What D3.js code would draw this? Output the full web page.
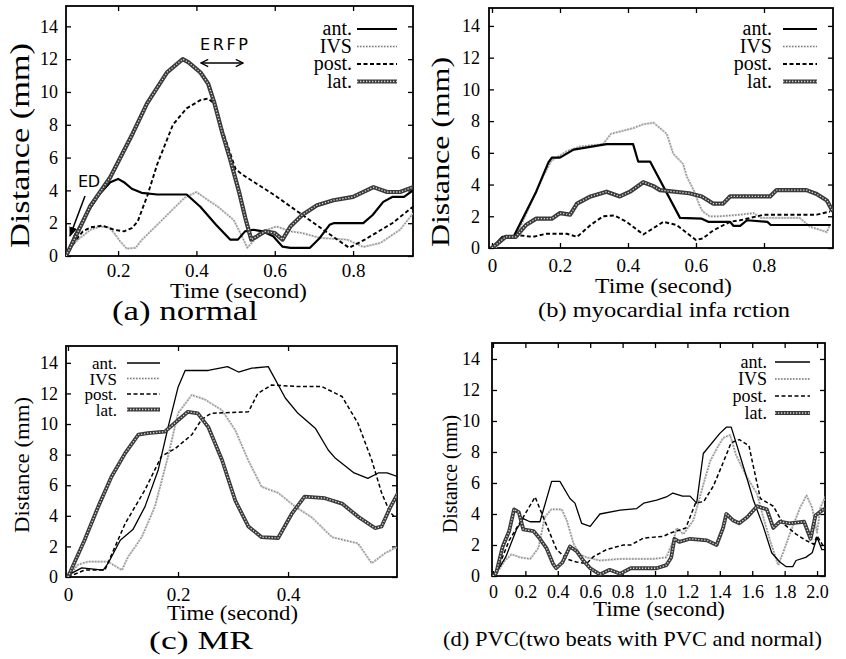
<!DOCTYPE html>
<html><head><meta charset="utf-8">
<script src="https://cdn.jsdelivr.net/npm/d3@7"></script>
<style>body{margin:0;background:#fff}svg{display:block}</style>
</head><body>
<svg id="c" width="846" height="659"></svg>
<script>
// ---------- DATA ----------
const seriesNames = ["ant.", "IVS", "post.", "lat."];
const yTickValues = [0, 2, 4, 6, 8, 10, 12, 14];
const xTicksNormal = [0.2, 0.4, 0.6, 0.8];
const xTicksMI = [0, 0.2, 0.4, 0.6, 0.8];
const xTicksMR = [0, 0.2, 0.4];
const xTicksPVC = [0, 0.2, 0.4, 0.6, 0.8, 1.0, 1.2, 1.4, 1.6, 1.8, 2.0];

// (a) normal  [time (s), distance (mm)]
const normalAnt = [[0.067,0],[0.09,1.3],[0.12,2.6],[0.15,3.7],[0.18,4.5],[0.2,4.7],[0.215,4.5],[0.235,4.1],[0.26,3.85],[0.3,3.75],[0.375,3.75],[0.41,3.0],[0.45,1.9],[0.486,1.0],[0.506,1.0],[0.524,1.5],[0.545,1.6],[0.57,1.5],[0.596,1.2],[0.62,0.57],[0.64,0.5],[0.69,0.5],[0.715,1.1],[0.74,1.9],[0.75,2.0],[0.826,2.0],[0.85,2.5],[0.877,3.3],[0.9,3.6],[0.93,3.6],[0.953,4.0]];
const normalIVS = [[0.067,0],[0.08,0.6],[0.103,1.1],[0.13,1.6],[0.155,1.8],[0.175,1.75],[0.19,1.4],[0.205,0.9],[0.222,0.45],[0.245,0.5],[0.26,0.97],[0.3,1.9],[0.34,2.85],[0.37,3.55],[0.4,3.9],[0.43,3.4],[0.455,3.0],[0.475,2.6],[0.495,2.2],[0.51,1.5],[0.53,0.5],[0.545,0.9],[0.56,1.4],[0.58,1.6],[0.605,1.8],[0.64,1.5],[0.67,1.4],[0.716,1.1],[0.785,1.0],[0.826,0.55],[0.87,0.8],[0.92,1.6],[0.953,2.6]];
const normalPost = [[0.067,0],[0.09,0.9],[0.11,1.5],[0.13,1.75],[0.16,1.85],[0.19,1.6],[0.215,1.5],[0.235,1.7],[0.25,2.1],[0.275,3.7],[0.3,5.6],[0.34,8.0],[0.375,9.0],[0.41,9.5],[0.43,9.6],[0.445,9.3],[0.47,7.4],[0.5,5.3],[0.515,5.0],[0.6,3.7],[0.665,2.6],[0.73,1.5],[0.79,0.5],[0.83,1.0],[0.9,2.0],[0.953,3.0]];
const normalLat = [[0.067,0],[0.1,1.6],[0.128,3.0],[0.18,4.8],[0.238,7.5],[0.274,9.3],[0.325,11.2],[0.365,12.0],[0.38,11.8],[0.41,11.2],[0.43,10.5],[0.445,9.4],[0.465,7.6],[0.486,5.9],[0.51,3.8],[0.525,2.3],[0.54,1.0],[0.555,1.2],[0.575,1.5],[0.6,1.4],[0.62,1.0],[0.64,1.8],[0.67,2.5],[0.708,3.1],[0.75,3.4],[0.8,3.6],[0.852,4.2],[0.887,3.9],[0.92,3.9],[0.953,4.2]];

// (b) myocardial infarction
const miAnt = [[0,0],[0.03,0.7],[0.063,0.7],[0.13,3.55],[0.166,5.4],[0.176,5.7],[0.2,5.7],[0.24,6.2],[0.337,6.55],[0.415,6.55],[0.43,5.45],[0.465,5.45],[0.553,1.9],[0.617,1.85],[0.636,1.65],[0.7,1.65],[0.71,1.4],[0.73,1.4],[0.75,1.75],[0.81,1.65],[0.82,1.45],[0.994,1.45]];
const miIVS = [[0,0],[0.01,0],[0.04,0.7],[0.07,0.7],[0.11,2.6],[0.15,4.5],[0.175,5.5],[0.22,6.1],[0.26,6.4],[0.327,6.55],[0.35,7.2],[0.415,7.55],[0.445,7.8],[0.475,7.9],[0.514,7.2],[0.533,5.95],[0.562,5.3],[0.573,4.5],[0.593,3.65],[0.612,2.6],[0.62,2.3],[0.64,2.0],[0.67,2.0],[0.73,2.1],[0.77,2.2],[0.79,1.9],[0.905,1.9],[0.935,1.35],[0.985,1.0],[0.995,1.5]];
const miPost = [[0,0],[0.04,0.7],[0.08,0.8],[0.12,0.7],[0.16,0.9],[0.22,0.9],[0.25,0.7],[0.29,1.45],[0.327,2.0],[0.36,2.05],[0.396,1.65],[0.445,0.85],[0.504,1.65],[0.543,1.45],[0.6,0.5],[0.62,0.6],[0.65,1.1],[0.7,1.65],[0.73,1.75],[0.8,2.1],[0.955,2.1],[0.994,2.3]];
const miLat = [[0,0],[0.04,0.7],[0.07,0.7],[0.1,1.45],[0.13,1.85],[0.176,1.85],[0.2,2.2],[0.23,2.1],[0.25,2.8],[0.29,3.25],[0.337,3.55],[0.376,3.25],[0.406,3.55],[0.445,4.15],[0.475,3.9],[0.494,3.65],[0.58,3.45],[0.617,3.25],[0.65,2.8],[0.68,2.8],[0.7,3.25],[0.818,3.25],[0.837,3.65],[0.925,3.65],[0.955,3.4],[0.985,3.0],[1.0,2.4]];

// (c) MR
const mrAnt = [[0,0],[0.007,0.25],[0.025,0.6],[0.064,0.45],[0.073,0.9],[0.095,2.4],[0.118,3.1],[0.14,4.6],[0.164,7.0],[0.182,9.8],[0.2,12.4],[0.213,13.5],[0.255,13.5],[0.29,13.75],[0.31,13.4],[0.334,13.65],[0.364,13.75],[0.395,11.7],[0.418,10.7],[0.45,9.7],[0.473,8.3],[0.485,7.8],[0.52,6.8],[0.545,6.45],[0.564,6.8],[0.58,6.8],[0.6,6.55]];
const mrIVS = [[0,0],[0.018,0.8],[0.036,1.0],[0.073,1.0],[0.098,0.45],[0.109,1.3],[0.134,2.6],[0.158,4.6],[0.182,7.9],[0.2,10.7],[0.225,11.9],[0.249,11.6],[0.28,10.9],[0.304,9.6],[0.328,7.6],[0.352,5.9],[0.382,5.5],[0.413,4.6],[0.443,3.9],[0.48,2.6],[0.527,2.2],[0.552,0.9],[0.576,1.55],[0.6,2.0]];
const mrPost = [[0,0],[0.03,0.45],[0.067,0.45],[0.104,3.5],[0.14,5.7],[0.17,7.9],[0.195,8.4],[0.225,9.3],[0.243,10.3],[0.26,10.7],[0.328,10.8],[0.345,12.0],[0.37,12.55],[0.418,12.45],[0.461,12.45],[0.498,11.8],[0.527,10.05],[0.552,7.65],[0.57,5.5],[0.585,4.25],[0.6,3.7]];
const mrLat = [[0,0],[0.03,2.4],[0.055,4.6],[0.079,6.55],[0.104,8.1],[0.128,9.3],[0.145,9.4],[0.176,9.5],[0.2,10.25],[0.218,10.8],[0.236,10.7],[0.255,9.8],[0.28,7.65],[0.304,5.0],[0.328,3.3],[0.352,2.6],[0.382,2.55],[0.407,4.15],[0.43,5.25],[0.467,5.15],[0.498,4.8],[0.527,3.95],[0.558,3.2],[0.57,3.3],[0.585,4.5],[0.6,5.5]];

// (d) PVC
const pvcAnt = [[0,0],[0.02,0.2],[0.08,1.25],[0.145,3.0],[0.187,3.7],[0.228,3.5],[0.29,3.5],[0.362,6.1],[0.413,6.1],[0.475,5.0],[0.506,4.7],[0.547,3.4],[0.6,3.2],[0.63,3.6],[0.66,4.0],[0.785,4.25],[0.887,4.35],[0.93,4.7],[1.01,4.9],[1.07,5.1],[1.11,5.35],[1.17,5.15],[1.216,5.15],[1.257,4.7],[1.298,7.9],[1.4,9.2],[1.44,9.6],[1.47,9.6],[1.5,8.6],[1.576,6.0],[1.607,4.9],[1.668,3.2],[1.72,1.5],[1.77,0.9],[1.81,0.6],[1.85,0.6],[1.87,1.0],[1.93,1.2],[1.97,1.5],[2.0,2.5],[2.03,1.7],[2.05,1.7]];
const pvcIVS = [[0,0],[0.03,0.3],[0.074,1.0],[0.115,1.4],[0.167,1.2],[0.23,1.1],[0.28,1.8],[0.32,3.8],[0.36,4.3],[0.424,4.3],[0.455,3.6],[0.497,2.1],[0.536,1.4],[0.578,1.2],[0.66,1.0],[0.783,1.1],[0.99,1.1],[1.07,1.2],[1.113,2.3],[1.134,3.1],[1.175,2.7],[1.237,3.6],[1.298,5.9],[1.34,7.4],[1.38,8.2],[1.42,8.9],[1.463,9.1],[1.5,7.8],[1.566,6.4],[1.63,5.3],[1.668,3.8],[1.71,2.3],[1.76,0.7],[1.79,1.5],[1.835,2.8],[1.895,4.4],[1.935,5.2],[1.97,4.4],[2.0,2.8],[2.02,4.4],[2.05,5.1]];
const pvcPost = [[0,0],[0.02,0.2],[0.1,2.3],[0.187,3.8],[0.26,5.1],[0.31,3.8],[0.393,1.7],[0.455,1.1],[0.516,0.9],[0.578,0.8],[0.62,1.25],[0.7,1.7],[0.805,2.0],[0.85,2.0],[0.93,2.45],[1.05,2.55],[1.09,2.75],[1.19,3.1],[1.25,4.7],[1.3,4.8],[1.36,5.8],[1.42,7.3],[1.47,8.6],[1.52,8.8],[1.58,8.4],[1.6,7.4],[1.65,5.0],[1.73,4.5],[1.79,3.4],[1.87,2.7],[1.93,2.3],[1.98,2.05],[2.0,2.6],[2.04,1.9],[2.05,1.9]];
const pvcLat = [[0,0],[0.02,0.2],[0.06,1.9],[0.1,2.9],[0.13,4.3],[0.16,4.1],[0.187,3.0],[0.25,2.9],[0.29,2.4],[0.33,1.8],[0.37,0.8],[0.39,0.5],[0.43,0.9],[0.475,1.9],[0.516,1.6],[0.557,1.0],[0.6,0.5],[0.66,0.1],[0.72,0.4],[0.785,0.15],[0.85,0.5],[1.01,0.5],[1.07,0.7],[1.1,1.2],[1.12,2.4],[1.15,2.2],[1.216,2.4],[1.32,2.3],[1.38,2.0],[1.42,3.1],[1.44,4.0],[1.48,3.6],[1.52,3.4],[1.57,3.8],[1.63,4.5],[1.69,4.3],[1.73,3.1],[1.77,3.5],[1.83,3.4],[1.92,3.5],[1.96,2.4],[1.99,3.9],[2.04,4.3],[2.05,4.3]];

const captions = ["(a) normal", "(b) myocardial infa rction", "(c) MR", "(d) PVC(two beats with PVC and normal)"];
const xTitle = "Time (second)";
const yTitle = "Distance (mm)";

// ---------- LAYOUT ----------
const SERIF = "Liberation Serif, Times New Roman, serif";
const panels = [
  { box:{l:66,r:413,t:6,b:256}, xd:[0.067,0.953], yd:[0,15.24], xt:xTicksNormal,
    data:[normalAnt,normalIVS,normalPost,normalLat], antW:2.2, thin:false,
    yLabDx:8, xLabBase:277, xFont:19, yFont:18,
    xT:{x:170,len:137,base:298,fs:22}, yT:{x:29,cy:145.5,len:205,fs:27},
    cap:{x:112,len:146,base:320,fs:27, text:captions[0]},
    leg:{x:352,y0:35,dy:17.5,fs:20,s1:357,s2:397} },
  { box:{l:489,r:833,t:8,b:248}, xd:[-0.0088,1.003], yd:[0,15.13], xt:xTicksMI,
    data:[miAnt,miIVS,miPost,miLat], antW:2.2, thin:false,
    yLabDx:9, xLabBase:272, xFont:19, yFont:18,
    xT:{x:595,len:137,base:293,fs:22}, yT:{x:449,cy:152,len:190,fs:25},
    cap:{x:538,len:252,base:317,fs:21, text:captions[1]},
    leg:{x:772,y0:35,dy:17.5,fs:20,s1:783,s2:817} },
  { box:{l:66,r:397,t:346,b:577}, xd:[-0.0036,0.598], yd:[0,15.1], xt:xTicksMR,
    data:[mrAnt,mrIVS,mrPost,mrLat], antW:1.3, thin:true,
    yLabDx:8, xLabBase:601, xFont:19, yFont:18,
    xT:{x:167,len:131,base:620,fs:21}, yT:{x:29,cy:465,len:136,fs:22},
    cap:{x:149,len:104,base:649,fs:25, text:captions[2]},
    leg:{x:117,y0:369,dy:15.5,fs:17,s1:127,s2:160} },
  { box:{l:492,r:825,t:343,b:576}, xd:[-0.006,2.049], yd:[0,15.03], xt:xTicksPVC,
    data:[pvcAnt,pvcIVS,pvcPost,pvcLat], antW:1.3, thin:true,
    yLabDx:12, xLabBase:598, xFont:18, yFont:18,
    xT:{x:593,len:132,base:616,fs:20}, yT:{x:457,cy:474,len:118,fs:20},
    cap:{x:443,len:379,base:646,fs:22, text:captions[3]},
    leg:{x:767,y0:368,dy:17,fs:18,s1:775,s2:810} }
];

const svg = d3.select("#c");
const fmt = v => v === 0 ? "0" : d3.format(".1f")(v);

function strokeLayers(i, p) {
  if (i === 0) return [{stroke:"#000", w:p.antW}];
  if (i === 1) return [{stroke:"#bdbdbd", w:2.2, dash:"2.2,0.8"}, {stroke:"#5a5a5a", w:0.9, dash:"0.8,2.2"}];
  if (i === 2) return [{stroke:"#000", w:p.thin?1.5:1.9, dash:"4,2.5"}];
  return [{stroke:"#3a3a3a", w:p.thin?3.8:4.2}, {stroke:"#d8d8d8", w:1.3, dash:"1.3,1.7"}];
}

panels.forEach((p, pi) => {
  const g = svg.append("g");
  const x = d3.scaleLinear().domain(p.xd).range([p.box.l, p.box.r]);
  const y = d3.scaleLinear().domain(p.yd).range([p.box.b, p.box.t]);

  const clipId = "clip" + pi;
  svg.append("clipPath").attr("id", clipId).append("rect")
    .attr("x", p.box.l).attr("y", p.box.t)
    .attr("width", p.box.r - p.box.l).attr("height", p.box.b - p.box.t);

  const yAx = g.append("g").attr("transform", `translate(${p.box.l},0)`)
    .call(d3.axisLeft(y).tickValues(yTickValues).tickSizeInner(-5).tickSizeOuter(0).tickPadding(p.yLabDx).tickFormat(d3.format("d")));
  const yAxR = g.append("g").attr("transform", `translate(${p.box.r},0)`)
    .call(d3.axisRight(y).tickValues(yTickValues).tickSizeInner(-5).tickSizeOuter(0).tickFormat(""));
  const xAx = g.append("g").attr("transform", `translate(0,${p.box.b})`)
    .call(d3.axisBottom(x).tickValues(p.xt).tickSizeInner(-5).tickSizeOuter(0).tickPadding(0).tickFormat(fmt));
  const xAxT = g.append("g").attr("transform", `translate(0,${p.box.t})`)
    .call(d3.axisTop(x).tickValues(p.xt).tickSizeInner(-5).tickSizeOuter(0).tickFormat(""));
  [yAx, yAxR, xAx, xAxT].forEach(a => {
    a.attr("font-family", SERIF);
    a.select(".domain").remove();
    a.selectAll("line").attr("stroke", "#000").attr("stroke-width", 1.3);
  });
  yAx.attr("font-size", p.yFont);
  yAx.selectAll("text").attr("fill", "#000");
  xAx.attr("font-size", p.xFont);
  xAx.selectAll("text").attr("fill", "#000").attr("dy", null).attr("y", p.xLabBase - p.box.b);

  g.append("rect").attr("x", p.box.l).attr("y", p.box.t)
    .attr("width", p.box.r - p.box.l).attr("height", p.box.b - p.box.t)
    .attr("fill", "none").attr("stroke", "#000").attr("stroke-width", 1.8);

  const line = d3.line().x(d => x(d[0])).y(d => y(d[1]));
  const order = [1, 2, 0, 3];
  const lg = g.append("g").attr("clip-path", `url(#${clipId})`);
  order.forEach(i => {
    strokeLayers(i, p).forEach(st => {
      lg.append("path").datum(p.data[i]).attr("d", line)
        .attr("fill", "none").attr("stroke", st.stroke).attr("stroke-width", st.w)
        .attr("stroke-dasharray", st.dash || null)
        .attr("stroke-linejoin", "round").attr("stroke-linecap", st.dash ? "butt" : "round");
    });
  });

  seriesNames.forEach((name, i) => {
    const by = p.leg.y0 + i * p.leg.dy;
    g.append("text").attr("x", p.leg.x).attr("y", by).attr("text-anchor", "end")
      .attr("font-family", SERIF).attr("font-size", p.leg.fs).text(name);
    strokeLayers(i, p).forEach(st => {
      g.append("line").attr("x1", p.leg.s1).attr("x2", p.leg.s2)
        .attr("y1", by - 6).attr("y2", by - 6)
        .attr("stroke", st.stroke).attr("stroke-width", st.w)
        .attr("stroke-dasharray", st.dash || null);
    });
  });

  g.append("text").attr("x", p.xT.x).attr("y", p.xT.base)
    .attr("font-family", SERIF).attr("font-size", p.xT.fs)
    .attr("textLength", p.xT.len).attr("lengthAdjust", "spacingAndGlyphs").text(xTitle);
  g.append("text").attr("transform", `translate(${p.yT.x},${p.yT.cy}) rotate(-90)`)
    .attr("x", -p.yT.len / 2).attr("y", 0)
    .attr("font-family", SERIF).attr("font-size", p.yT.fs)
    .attr("textLength", p.yT.len).attr("lengthAdjust", "spacingAndGlyphs").text(yTitle);
  g.append("text").attr("x", p.cap.x).attr("y", p.cap.base)
    .attr("font-family", SERIF).attr("font-size", p.cap.fs)
    .attr("textLength", p.cap.len).attr("lengthAdjust", "spacingAndGlyphs").text(p.cap.text);

  if (pi === 0) {
    const defs = svg.append("defs");
    defs.append("marker").attr("id", "headOpen").attr("viewBox", "0 0 10 10")
      .attr("refX", 9).attr("refY", 5).attr("markerWidth", 9).attr("markerHeight", 9)
      .attr("orient", "auto-start-reverse").attr("markerUnits", "userSpaceOnUse")
      .append("path").attr("d", "M1,1 L9,5 L1,9").attr("fill", "none").attr("stroke", "#000").attr("stroke-width", 1.5);
    defs.append("marker").attr("id", "headFill").attr("viewBox", "0 0 10 10")
      .attr("refX", 9).attr("refY", 5).attr("markerWidth", 10).attr("markerHeight", 10)
      .attr("orient", "auto").attr("markerUnits", "userSpaceOnUse")
      .append("path").attr("d", "M0,1 L10,5 L0,9 Z").attr("fill", "#000");
    g.append("text").attr("x", 200).attr("y", 50)
      .attr("font-family", "DejaVu Sans, sans-serif").attr("font-size", 16)
      .attr("textLength", 48).attr("lengthAdjust", "spacing").text("ERFP");
    g.append("line").attr("x1", 201).attr("x2", 243).attr("y1", 63).attr("y2", 63)
      .attr("stroke", "#000").attr("stroke-width", 1.5)
      .attr("marker-start", "url(#headOpen)").attr("marker-end", "url(#headOpen)");
    g.append("text").attr("x", 78).attr("y", 187)
      .attr("font-family", "DejaVu Sans, sans-serif").attr("font-size", 16)
      .attr("textLength", 22).attr("lengthAdjust", "spacing").text("ED");
    g.append("line").attr("x1", 85).attr("y1", 196).attr("x2", 70).attr("y2", 236)
      .attr("stroke", "#000").attr("stroke-width", 1.6).attr("marker-end", "url(#headFill)");
  }
});
</script>
</body></html>
